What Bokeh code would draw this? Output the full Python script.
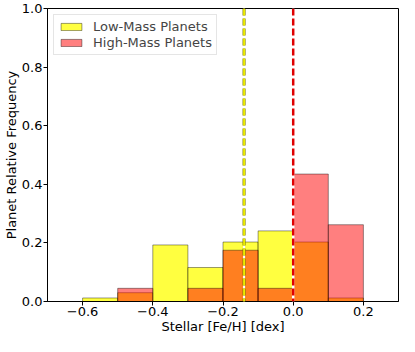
from bokeh.plotting import figure
from bokeh.models import Span, FixedTicker, Legend, LegendItem, ColumnDataSource
from bokeh.embed import file_html
from bokeh.resources import INLINE

# Data
bin_edges = [-0.6, -0.5, -0.4, -0.3, -0.2, -0.1, 0.0, 0.1, 0.2]
low_mass = [0.012, 0.030, 0.193, 0.116, 0.203, 0.241, 0.203, 0.012]
high_mass = [0.000, 0.045, 0.000, 0.045, 0.175, 0.045, 0.435, 0.262]
low_mean = -0.14
high_mean = 0.0
x_ticks = [-0.6, -0.4, -0.2, 0.0, 0.2]
y_ticks = [0.0, 0.2, 0.4, 0.6, 0.8, 1.0]

FONT = "DejaVu Sans"

p = figure(width=399, height=336, x_range=(-0.7, 0.3), y_range=(0.0, 1.0),
           output_backend="svg", toolbar_location=None,
           min_border_top=8, min_border_right=1, min_border_left=0, min_border_bottom=0)

left = bin_edges[:-1]
right = bin_edges[1:]
src_low = ColumnDataSource(dict(left=left, right=right, top=low_mass, bottom=[0]*len(low_mass)))
src_high = ColumnDataSource(dict(left=left, right=right, top=high_mass, bottom=[0]*len(high_mass)))

r_low = p.quad(left="left", right="right", top="top", bottom="bottom", source=src_low,
               fill_color="yellow", fill_alpha=0.75, line_color="black", line_alpha=0.4, line_width=1)
r_high = p.quad(left="left", right="right", top="top", bottom="bottom", source=src_high,
                fill_color="red", fill_alpha=0.5, line_color="black", line_alpha=0.4, line_width=1)

p.add_layout(Span(location=low_mean, dimension="height", line_color="white", line_width=2))
p.add_layout(Span(location=low_mean, dimension="height", line_color="#7a7a00", line_width=3,
                  line_dash="7 3"))
p.add_layout(Span(location=low_mean, dimension="height", line_color="yellow", line_width=1.6,
                  line_dash="7 3"))
p.add_layout(Span(location=high_mean, dimension="height", line_color="white", line_width=2.5))
p.add_layout(Span(location=high_mean, dimension="height", line_color="#e00000", line_width=2.5,
                  line_dash="7 3"))

p.xgrid.visible = False
p.ygrid.visible = False
p.outline_line_color = "black"

p.xaxis.ticker = FixedTicker(ticks=x_ticks)
p.xaxis.major_label_overrides = {t: (f"{t:.1f}".replace("-", "\u2212")) for t in x_ticks}
p.yaxis.ticker = FixedTicker(ticks=y_ticks)
p.yaxis.major_label_overrides = {t: f"{t:.1f}" for t in y_ticks}

for ax in (p.xaxis[0], p.yaxis[0]):
    ax.minor_tick_line_color = None
    ax.major_tick_in = 0
    ax.major_tick_out = 4
    ax.axis_line_color = "black"
    ax.major_tick_line_color = "black"
    ax.major_label_text_font = FONT
    ax.major_label_text_font_size = "13px"
    ax.major_label_text_color = "black"
    ax.axis_label_text_font = FONT
    ax.axis_label_text_font_size = "13px"
    ax.axis_label_text_font_style = "normal"
    ax.axis_label_text_color = "black"
    ax.major_label_standoff = 1
    ax.axis_label_standoff = 0

p.xaxis.axis_label = "Stellar [Fe/H] [dex]"
p.yaxis.axis_label = "Planet Relative Frequency"

legend = Legend(items=[LegendItem(label="Low-Mass Planets", renderers=[r_low]),
                       LegendItem(label="High-Mass Planets", renderers=[r_high])],
                location="top_left")
legend.label_text_font = FONT
legend.label_text_font_size = "13px"
legend.border_line_color = "#cccccc"
legend.margin = 6
legend.padding = 4
legend.spacing = 1
legend.glyph_width = 26
legend.glyph_height = 9
legend.label_standoff = 9
legend.label_height = 14
p.add_layout(legend)

open("out.html", "w").write(file_html(p, INLINE))
